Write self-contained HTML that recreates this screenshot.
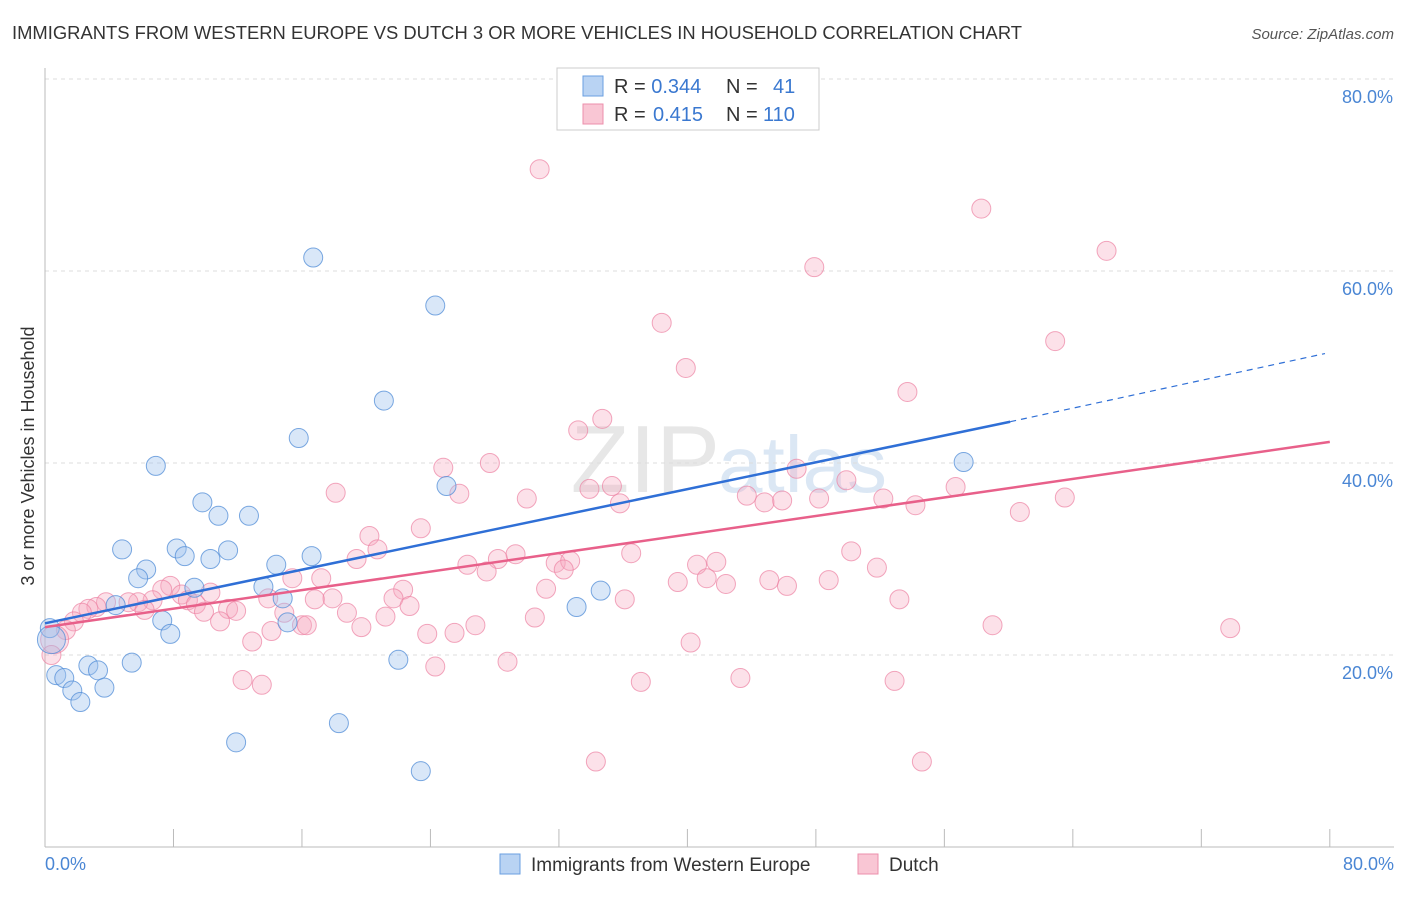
<!DOCTYPE html>
<html><head><meta charset="utf-8"><style>
body{margin:0;background:#fff;font-family:"Liberation Sans",sans-serif}
svg text{font-family:"Liberation Sans",sans-serif}
</style></head><body>
<svg id="c" width="1406" height="892" xmlns="http://www.w3.org/2000/svg">
<text x="12" y="39" font-size="18" fill="#333" textLength="1010" lengthAdjust="spacingAndGlyphs">IMMIGRANTS FROM WESTERN EUROPE VS DUTCH 3 OR MORE VEHICLES IN HOUSEHOLD CORRELATION CHART</text>
<text x="1394" y="39" font-size="15" fill="#555" text-anchor="end" font-style="italic">Source: ZipAtlas.com</text>
<text x="720" y="492" font-size="96" fill="#d8d8d8" font-family="Liberation Serif" text-anchor="end" opacity="0.6">ZIP</text>
<text x="718" y="492" font-size="80" fill="#c4d8ee" opacity="0.6">atlas</text>
<g id="grid"></g><g id="pts"></g><g id="lines"></g>
<text transform="translate(34,456) rotate(-90)" font-size="18" fill="#333" text-anchor="middle">3 or more Vehicles in Household</text>
<text x="45" y="870" font-size="18" fill="#4a86d4">0.0%</text>
<text x="1394" y="870" font-size="18" fill="#4a86d4" text-anchor="end">80.0%</text>
<g>
<rect x="557" y="68" width="262" height="62" fill="#fff" stroke="#ccc"/>
<rect x="583" y="76" width="20" height="20" fill="#b9d3f3" stroke="#6a9fe0"/>
<rect x="583" y="104" width="20" height="20" fill="#f9c6d4" stroke="#ec8fab"/>
<text x="614" y="93" font-size="20" fill="#333">R = <tspan fill="#3a78d0">0.344</tspan><tspan x="726">N = </tspan><tspan x="773" fill="#3a78d0">41</tspan></text>
<text x="614" y="121" font-size="20" fill="#333">R = <tspan x="653" fill="#3a78d0">0.415</tspan><tspan x="726">N = </tspan><tspan x="763" fill="#3a78d0">110</tspan></text>
</g>
<g>
<rect x="500" y="854" width="20" height="20" fill="#b9d3f3" stroke="#6a9fe0"/>
<text x="531" y="871" font-size="19" fill="#333">Immigrants from Western Europe</text>
<rect x="858" y="854" width="20" height="20" fill="#f9c6d4" stroke="#ec8fab"/>
<text x="889" y="871" font-size="19" fill="#333">Dutch</text>
</g>
</svg>
<script>
const blueX=[16.7,24.3,21.1,15.8,6.9,25.0,57.2,9.8,10.8,12.7,4.8,8.2,8.7,11.4,10.3,16.6,14.4,6.3,5.8,9.3,13.6,4.4,14.8,34.6,33.1,7.3,15.1,7.8,0.3,0.4,2.7,3.3,5.4,22.0,0.7,1.2,1.7,3.7,2.2,18.3,11.9,23.4];
const blueY=[61.4,56.4,46.5,42.6,39.7,37.6,40.1,35.9,34.5,34.5,31.0,31.1,30.3,30.9,30.0,30.3,29.4,28.9,28.0,27.0,27.1,25.2,25.9,26.7,25.0,23.6,23.4,22.2,22.8,21.6,18.9,18.4,19.2,19.5,17.9,17.6,16.3,16.6,15.1,12.9,10.9,7.9];
const pinkX=[30.8,58.3,66.1,47.9,38.4,62.9,39.9,53.7,34.7,33.2,27.7,24.8,46.8,49.9,18.1,25.8,33.9,35.3,35.8,30.0,43.7,44.8,45.9,48.2,52.2,54.2,56.7,63.5,60.7,23.4,20.2,20.7,36.5,50.2,19.4,28.2,29.3,26.3,27.5,31.8,32.7,32.3,40.6,41.8,41.2,42.4,39.4,45.1,46.2,48.8,51.8,15.4,17.2,31.2,22.3,21.7,22.7,36.1,53.2,17.9,16.8,13.9,10.3,7.8,7.3,8.5,8.9,6.7,5.8,5.2,3.8,3.2,2.7,2.3,6.2,9.4,9.9,11.4,11.9,10.9,18.8,21.2,30.5,26.8,14.9,16.0,16.3,19.7,1.8,1.3,14.1,23.8,25.5,59.0,73.8,12.9,40.2,0.6,28.8,24.3,0.4,12.3,13.5,37.1,43.3,52.9,34.3,54.6];
const pinkY=[70.6,66.5,62.1,60.4,54.6,52.7,49.9,47.4,44.6,43.4,40.0,39.5,39.4,38.2,36.9,36.8,37.3,37.6,35.8,36.3,36.6,35.9,36.1,36.3,36.3,35.6,37.5,36.4,34.9,33.2,32.4,31.0,30.6,30.8,30.0,30.0,30.5,29.4,28.7,29.6,29.8,28.9,29.4,29.7,28.0,27.4,27.6,27.8,27.2,27.8,29.1,28.0,28.0,26.9,26.8,25.9,25.1,25.8,25.8,25.9,25.8,25.9,26.5,27.2,26.8,26.3,25.7,25.7,25.5,25.5,25.5,25.0,24.8,24.4,24.7,25.3,24.5,24.8,24.6,23.5,24.4,24.0,23.9,23.1,24.4,23.1,23.1,22.9,23.5,22.6,22.5,22.2,22.3,23.1,22.8,21.4,21.3,21.6,19.3,18.8,20.0,17.4,16.9,17.2,17.6,17.3,8.9,8.9];
const yTicks=[20,40,60,80];
const xTicks=[0,8,16,24,32,40,48,56,64,72,80];
const blueTrend=[[0,23.3],[60.1,44.3],[79.7,51.4]];
const pinkTrend=[[0,22.9],[80,42.2]];
const NS="http://www.w3.org/2000/svg";
const sx=v=>45+v*16.06, sy=v=>847-v*9.6;
function mk(t,a,p){const e=document.createElementNS(NS,t);for(const k in a)e.setAttribute(k,a[k]);p.appendChild(e);return e;}
const g=document.getElementById('grid');
yTicks.forEach(t=>{
 const l=mk('line',{x1:45,x2:1394,y1:sy(t),y2:sy(t),stroke:'#ddd','stroke-dasharray':'4,4'},g);
 
 
 const tx=mk('text',{x:1393,y:sy(t)+24,'font-size':18,fill:'#4a86d4','text-anchor':'end'},g);
 tx.textContent=t.toFixed(1)+'%';
 
 
});
const ax=mk('line',{x1:45,x2:45,y1:68,y2:847,stroke:'#bbb'},g);


const bx=mk('line',{x1:45,x2:1394,y1:847,y2:847,stroke:'#bbb'},g);


xTicks.forEach(t=>{
 const l=mk('line',{x1:sx(t),x2:sx(t),y1:829,y2:847,stroke:'#bbb'},g);
 
 
});
const p=document.getElementById('pts');
pinkX.forEach((x,i)=>{
 const big=(i===97);
 const c=mk('circle',{cx:sx(x),cy:sy(pinkY[i]),r:big?14:9.5,fill:'rgba(246,170,192,0.35)',stroke:'rgba(236,130,162,0.7)','stroke-width':1},p);
 
 
});
blueX.forEach((x,i)=>{
 const big=(i===29);
 const c=mk('circle',{cx:sx(x),cy:sy(blueY[i]),r:big?14:9.5,fill:'rgba(160,195,238,0.4)',stroke:'rgba(80,140,215,0.75)','stroke-width':1},p);
 
 
});
const L=document.getElementById('lines');
const b1=mk('line',{x1:sx(blueTrend[0][0]),y1:sy(blueTrend[0][1]),x2:sx(blueTrend[1][0]),y2:sy(blueTrend[1][1]),stroke:'#2f6fd6','stroke-width':2.5},L);


const b2=mk('line',{x1:sx(blueTrend[1][0]),y1:sy(blueTrend[1][1]),x2:sx(blueTrend[2][0]),y2:sy(blueTrend[2][1]),stroke:'#2f6fd6','stroke-width':1.2,'stroke-dasharray':'6,5'},L);


const p1=mk('line',{x1:sx(pinkTrend[0][0]),y1:sy(pinkTrend[0][1]),x2:sx(pinkTrend[1][0]),y2:sy(pinkTrend[1][1]),stroke:'#e8608a','stroke-width':2.5},L);


</script>
</body></html>
